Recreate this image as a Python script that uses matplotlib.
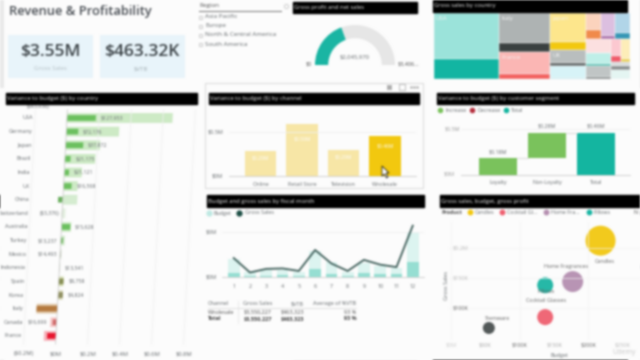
import numpy as np
import matplotlib
matplotlib.use("Agg")
from matplotlib import pyplot as plt
from matplotlib.patches import Rectangle
from matplotlib.transforms import Affine2D

plt.rcParams['font.family'] = ['Open Sans', 'DejaVu Sans']

# country chart
countries = ['USA', 'Germany', 'Japan', 'Brazil', 'India', 'UK', 'China', 'Switzerland', 'Australia',
             'Turkey', 'Mexico', 'Indonesia', 'Spain', 'Korea', 'Italy', 'Canada', 'France']
country_gross = [0.66, 0.33, 0.215, 0.19, 0.11, 0.0875, 0.09, 0.02, 0.06, 0.025, 0.008, 0.004, 0.03, 0.03, -0.13, -0.04, -0.075]
country_var = [0.18, 0.075, 0.11, 0.035, 0.03, 0.05, -0.03, -0.003, 0.055, 0.015, 0.005, 0.003, 0.03, 0.03, -0.13, -0.025, -0.055]
country_labels = ['$127,953', '$72,176', '$37,872', '$21,175', '$21,121', '$16,568', '', '($3,376)', '$15,628',
                  '$13,237', '$14,493', '$13,541', '$8,758', '$4,824', '', '$16,699', '']
labels_left = ['Switzerland', 'Turkey', 'Mexico', 'Canada']
country_dark = ['#6cc05f'] * 6 + ['#6cb060', '#c8d8c0', '#6cc05f', '#7dbb70', '#a0a890', '#a0a890', '#878f55', '#8f8f60', '#b57a3f', '#d06a6a', '#e8152e']
country_light = ['#cdeac5'] * 6 + ['#d5ecd0', '#e4f0e0', '#cdeac5', '#d5ecd0', '#dde5d8', '#dde5d8', '#d8e0b8', '#dcdcc0', '#e3cdb0', '#f6c9c9', '#f7b0b8']
country_ticks = [-0.2, 0, 0.2, 0.4, 0.6, 0.8]
country_ticklabels = ['($0.2M)', '$0M', '$0.2M', '$0.4M', '$0.6M', '$0.8M']

# channel chart
channels = ['Online', 'Retail Store', 'Television', 'Wholesale']
channel_var = [0.286, 0.59, 0.294, 0.454]
channel_labels = ['$0.29M', '$0.59M', '$0.29M', '$0.46M']
channel_colors = ['#f7e6a6', '#f7e6a6', '#f7e6a6', '#f2c80f']

# monthly chart
months = [1, 2, 3, 4, 5, 6, 7, 8, 9, 10, 11, 12]
budget = [2.0, 0.6, 0.8, 0.8, 0.6, 2.9, 1.7, 0.6, 1.5, 1.2, 1.0, 5.0]
profit = [0.45, 0.15, 0.15, 0.2, 0.15, 0.9, 0.3, 0.15, 0.4, 0.3, 0.3, 1.7]
gross_sales = [2.1, 0.5, 0.9, 0.95, 0.67, 3.0, 1.5, 0.67, 1.9, 1.37, 1.1, 5.7]

# table
table_header = ['Channel', 'Gross Sales', '$VTB', 'Average of %VTB']
table_row = ['Wholesale', '$3,550,227', '$463,323', '93 %']
table_total = ['Total', '$3,550,227', '$463,323', '93 %']

# gauge
gauge_fill = 0.39
gauge_rest = 0.61

# customer segments
segments = ['Loyalty', 'Non-Loyalty', 'Total']
segment_var = [0.178, 0.285]
segment_labels = ['$0.18M', '$0.28M', '$0.46M']

# scatter
products = ['Candles', 'Home Fragrances', 'Pillows', 'Cocktail Glasses', 'Stemware']
product_budget = [217.6, 177, 137, 137, 55]
product_sales = [212, 144, 138, 85, 67]
product_profit = [112, 55, 32, 32, 18]
product_colors = ['#f2c811', '#b58fb0', '#1ab5a3', '#ef6070', '#4a5050']

# treemap, in $K
tree_names = ['USA', 'Italy', 'France', 'Japan', 'UK', '', '', '', '', '', '', '', '', '', '', '']
tree_light = [808, 420, 308, 286, 128, 118, 68, 86, 81, 90, 72, 72, 46, 50, 21, 47]
tree_dark = [352, 112, 70, 69, 30, 10, 37, 11, 24, 0, 14, 15, 17, 7, 21, 0]
tree_light_col = ['#9be3da', '#aeb3b3', '#fbb6b4', '#fde68c', '#b9bebe', '#d7f3f7', '#fbd3bd', '#dcbfe0', '#b1d5e8',
                  '#fce0e0', '#bfefe8', '#c0c5c5', '#fcc8d0', '#fdedb8', '#d9dcdc', '#e4f5f2']
tree_dark_col = ['#12b5a2', '#3a4040', '#f2615f', '#f2c80f', '#5a6060', '#aee0e8', '#f08a4b', '#a66aa6', '#3596b5',
                 '#fce0e0', '#3fb5a5', '#808585', '#ef5a6a', '#e8cd50', '#8a8f8f', '#e4f5f2']
# columns, then rows inside them and so on, direction swaps at each level
tree_nest = [0, [1, 2], [3, 4, 5], [[6, 7, 8], [[9, 10, 11], [[12, 13], 14, 15]]]]

W, H = 640, 360
GRAY = '#666b6e'


def make_axes(x0, y0, x1, y1):
    # pixel box, top left origin
    a = fig.add_axes([x0 / W, 1 - y1 / H, (x1 - x0) / W, (y1 - y0) / H])
    a.patch.set_alpha(0)
    for s in a.spines.values():
        s.set_visible(False)
    a.set_xticks([])
    a.set_yticks([])
    return a


def soften(img, dpi):
    # the reference is a soft video frame
    for i in range(2):
        for axis in (0, 1):
            img = (np.roll(img, 1, axis) + 2 * img + np.roll(img, -1, axis)) / 4
    return img, 0, 0


fig = plt.figure(figsize=(6.4, 3.6), dpi=100, facecolor='#fcfcfc')
fig.set_agg_filter(soften)

# overlay in pixels for the report furniture
top = make_axes(0, 0, W, H)
top.set_xlim(0, W)
top.set_ylim(H, 0)
top.set_zorder(5)


def box(x0, y0, x1, y1, **kw):
    top.add_patch(Rectangle((x0, y0), x1 - x0, y1 - y0, **kw))


def title_bar(x0, y0, x1, y1, txt):
    box(x0, y0, x1, y1, color='black')
    top.text(x0 + 1, (y0 + y1) / 2, txt, color='#eeeeee', fontsize=4.2, va='center')


box(0, 0, 4, 88, color='#e9e9e9', lw=0)
top.text(9, 11, 'Revenue & Profitability', fontsize=9.3, color='#4a4f55', fontweight='semibold', va='center')
box(8, 35, 93, 78, color='#e8f4fa', lw=0)
box(100, 35, 185, 78, color='#e8f4fa', lw=0)
top.text(50.5, 52, '$3.55M', fontsize=12.5, color='#3d4448', fontweight='semibold', ha='center', va='center')
top.text(142, 52, '$463.32K', fontsize=12.5, color='#3d4448', fontweight='semibold', ha='center', va='center')
top.text(50, 69, 'Gross Sales', fontsize=4.4, color='#b5c0c5', ha='center', va='center')
top.text(141, 69, '$VTB', fontsize=4.4, color='#a5b0b5', ha='center', va='center')

# region slicer
top.text(199, 6, 'Region', fontsize=4.5, color='#555555', va='center')
top.plot([199, 281], [10.5, 10.5], color='#777777', lw=0.7)
top.plot([286], [6], 'o', mfc='none', mec='#bbbbbb', ms=3, mew=0.5)
for yy, name in zip([17, 26, 35, 44], ['Asia Pacific', 'Europe', 'North & Central America', 'South America']):
    box(199, yy - 1.5, 202, yy + 1.5, fc='none', ec='#aaaaaa', lw=0.4)
    top.text(205, yy, name, fontsize=4.5, color=GRAY, va='center')

title_bar(6, 93, 197, 104, 'Variance to budget ($) by country')
title_bar(293, 2, 417, 13, 'Gross profit and net sales')
title_bar(209, 93, 419, 104, 'Variance to budget ($) by channel')
title_bar(207, 195, 424, 207, 'Budget and gross sales by fiscal month')
title_bar(433, 0, 627, 12, 'Gross sales by country')
title_bar(437, 93, 634, 104, 'Variance to budget ($) by customer segment')
title_bar(440, 195, 640, 207, 'Gross sales, budget, gross profit')

# focus frame of the channel visual
box(205, 83, 423, 188, fc='none', ec='#dddddd', lw=0.8)
top.plot([389], [87], marker=(4, 1, 45), color='#aaaaaa', ms=4)
top.plot([402], [87], 's', mfc='none', mec='#aaaaaa', ms=4, mew=0.5)
top.plot([411, 414, 417], [87, 87, 87], '.', color='#aaaaaa', ms=1.5)
top.fill([382, 382, 384.5, 386.5, 388, 386, 389], [166, 176, 174, 178, 177, 173, 173], fc='white', ec='black', lw=0.5)

# country chart, the video is filmed at an angle so the rows lean
ax = make_axes(7, 109, 200, 345)
ax.set_xlim(-0.306, 0.9)
ax.set_ylim(16.67, -0.66)
k = 0.0043
lean = Affine2D.from_values(1, 0, -k, 1, 16 * k, 0) + ax.transData
rows = list(range(len(countries)))
for t in country_ticks:
    ax.plot([t, t], [-0.6, 16.6], color='#f0f0f0' if t else '#cccccc', lw=0.6, transform=lean)
ax.barh(rows, country_gross, height=0.72, color=country_light, transform=lean)
ax.barh(rows, country_var, height=0.42, color=country_dark, transform=lean)
for i, name in enumerate(countries):
    ax.text(-0.212, i, name, fontsize=4.0, color=GRAY, ha='right', va='center', transform=lean, clip_on=False)
    if name in labels_left:
        ax.text(min(country_gross[i], 0) - 0.02, i, country_labels[i], fontsize=3.8, color=GRAY, ha='right', va='center', transform=lean)
    else:
        ax.text(country_var[i] + 0.03, i, country_labels[i], fontsize=3.8, color=GRAY, va='center', transform=lean)
ax.text(-0.11, -0.85, '($83,938)', fontsize=3.8, color=GRAY, va='center', ha='center', clip_on=False)
for t, lab in zip(country_ticks, country_ticklabels):
    ax.text(t, 17.3, lab, fontsize=4.2, color=GRAY, ha='center', va='center', clip_on=False)

# gauge
ax = make_axes(315, 25, 395, 105)
ax.pie([gauge_fill, gauge_rest, 1], startangle=180, counterclock=False, radius=1,
       colors=['#1ab5a3', '#e6e6e6', 'none'], wedgeprops={'width': 0.33})
ax.set_xlim(-1, 1)
ax.set_ylim(-1, 1)
top.text(355, 57, '$2,045,970', fontsize=4.2, color=GRAY, ha='center', va='center')
top.text(309, 64, '$0', fontsize=4.0, color='#555555', ha='center', va='center')
top.text(398, 64, '$3,406...', fontsize=4.0, color='#555555', va='center')

# channel bars
ax = make_axes(229, 110, 416, 176)
ax.set_xlim(-0.76, 3.75)
ax.set_ylim(0, 0.755)
ax.axhline(0.5, color='#f0f0f0', lw=0.6)
ax.bar(channels, channel_var, width=0.76, color=channel_colors)
ax.spines['bottom'].set_visible(True)
ax.spines['bottom'].set_color('#cccccc')
ax.spines['bottom'].set_linewidth(0.6)
ax.tick_params(length=0, labelsize=3.9, labelcolor=GRAY, pad=4)
ax.set_xticks(range(len(channels)))
ax.set_xticklabels(channels)
for i, v in enumerate(channel_var):
    ax.text(i, v * 0.72 if i != 3 else v * 0.75, channel_labels[i], fontsize=3.6, color='white', ha='center', va='center')
top.text(223, 132, '$0.5M', fontsize=4.0, color=GRAY, ha='right', va='center')
top.text(223, 176, '$0M', fontsize=4.0, color=GRAY, ha='right', va='center')

# budget and gross sales per month
top.plot([209], [213], 'o', color='#bfe9e3', ms=3.5)
top.text(214, 213, 'Budget', fontsize=3.9, color=GRAY, va='center')
top.plot([239], [213], 'o', color='#1d4f45', ms=3.5)
top.text(245, 213, 'Gross Sales', fontsize=3.9, color=GRAY, va='center')
ax = make_axes(222, 218, 424, 277)
ax.set_xlim(0.28, 12.69)
ax.set_ylim(0, 6.55)
ax.axhline(5, color='#f0f0f0', lw=0.6)
ax.bar(months, budget, width=0.72, color='#dcf4f0')
ax.bar(months, profit, width=0.72, color='#96ded2')
ax.plot(months, gross_sales, color='#3f5f5a', lw=1.3)
ax.spines['bottom'].set_visible(True)
ax.spines['bottom'].set_color('#cccccc')
ax.spines['bottom'].set_linewidth(0.6)
ax.set_xticks(months)
ax.tick_params(length=0, labelsize=3.9, labelcolor=GRAY, pad=5)
top.text(217, 232, '$5M', fontsize=4.0, color=GRAY, ha='right', va='center')
top.text(217, 277, '$0M', fontsize=4.0, color=GRAY, ha='right', va='center')

# table under it
col_x = [208, 272, 304, 356]
col_ha = ['left', 'right', 'right', 'right']
for x, ha, a, b, c in zip(col_x, col_ha, table_header, table_row, table_total):
    top.text(x, 303.7, a, fontsize=4.0, color=GRAY, ha=ha, va='center')
    top.text(x, 312, b, fontsize=4.0, color='#555555', ha=ha, va='center')
    top.text(x, 319, c, fontsize=4.0, color='#444444', ha=ha, va='center', fontweight='bold')
top.plot([208, 356], [307.5, 307.5], color='#cccccc', lw=0.4)
top.plot([238, 238], [301, 323], color='#dddddd', lw=0.4)


# treemap, squarified by hand through the nesting list
def draw_tree(node, x0, y0, x1, y1, across):
    if isinstance(node, int):
        ym = y0 + (y1 - y0) * tree_light[node] / (tree_light[node] + tree_dark[node])
        tm.add_patch(Rectangle((x0, y0), x1 - x0, ym - y0, fc=tree_light_col[node], ec='#fcfcfc', lw=0.3))
        tm.add_patch(Rectangle((x0, ym), x1 - x0, y1 - ym, fc=tree_dark_col[node], ec='#fcfcfc', lw=0.3))
        tm.text(x0 + 0.01, y0 + 0.05, tree_names[node], fontsize=4.4, color='#f4f4f4', va='top')
        return
    total = sum(node_sum(n) for n in node)
    pos = x0 if across else y0
    for n in node:
        step = ((x1 - x0) if across else (y1 - y0)) * node_sum(n) / total
        if across:
            draw_tree(n, pos, y0, pos + step, y1, False)
        else:
            draw_tree(n, x0, pos, x1, pos + step, True)
        pos += step


def node_sum(node):
    if isinstance(node, int):
        return tree_light[node] + tree_dark[node]
    return sum(node_sum(n) for n in node)


tm = make_axes(434, 13, 630, 79)
tm.set_xlim(0, 1)
tm.set_ylim(1, 0)
draw_tree(tree_nest, 0, 0, 1, 1, True)

# waterfall
for x, col, name in zip([440, 472, 506], ['#7ac25c', '#b5303f', '#14b5a0'], ['Increase', 'Decrease', 'Total']):
    top.plot([x], [110], 'o', color=col, ms=3)
    top.text(x + 5, 110, name, fontsize=3.9, color=GRAY, va='center')
ax = make_axes(461, 112, 630, 174.5)
ax.set_xlim(-0.755, 2.694)
ax.set_ylim(0, 0.694)
ax.axhline(0.5, color='#f0f0f0', lw=0.6)
loyal, non_loyal = segment_var
total_var = loyal + non_loyal
ax.bar(segments[:2], [loyal, non_loyal], bottom=[0, loyal], width=0.78, color='#7ac25c')
ax.bar(segments[2], total_var, width=0.78, color='#14b5a0')
ax.plot([0.39, 0.61], [loyal, loyal], color='#cccccc', lw=0.5)
ax.plot([1.39, 1.61], [total_var, total_var], color='#cccccc', lw=0.5)
ax.spines['bottom'].set_visible(True)
ax.spines['bottom'].set_color('#cccccc')
ax.spines['bottom'].set_linewidth(0.6)
ax.set_xticks(range(3))
ax.set_xticklabels(segments)
ax.tick_params(length=0, labelsize=3.9, labelcolor=GRAY, pad=4)
for i, top_v in enumerate([loyal, total_var, total_var]):
    ax.text(i, top_v + 0.07, segment_labels[i], fontsize=3.9, color=GRAY, ha='center', va='center')
top.text(452, 129, '$0.5M', fontsize=3.9, color='#999999', va='center', ha='center')
top.text(449, 174.5, '$0M', fontsize=3.9, color='#999999', va='center', ha='center')

# scatter
top.text(441, 212, 'Product', fontsize=3.9, color='#555555', fontweight='bold', va='center')
for x, col, name in zip([470, 502, 546, 589], ['#f2c811', '#ef6070', '#b58fb0', '#1ab5a3'],
                        ['Candles', 'Cocktail Gl...', 'Home Fra...', 'Pillows']):
    top.plot([x], [212], 'o', color=col, ms=3.2)
    top.text(x + 5, 212, name, fontsize=3.8, color=GRAY, va='center')
top.text(633, 212, 'N', fontsize=3.9, color='#555555', va='center')
ax = make_axes(449, 222, 640, 340)
ax.set_xlim(-3, 275)
ax.set_ylim(47, 243)
for t in [0, 100, 200]:
    ax.axvline(t, color='#f2f2f2', lw=0.5)
for t in [100, 150, 200]:
    ax.axhline(t, color='#f2f2f2', lw=0.5)
ax.scatter(product_budget, product_sales, s=[p * 4.15 for p in product_profit], color=product_colors, alpha=0.95, lw=0)
name_offsets = [(4, -21), (-7, 15), (1, -6), (1, 16), (8, 9)]
for i, name in enumerate(products):
    px = 451 + product_budget[i] / 50 * 34.4
    py = 308 - (product_sales[i] - 100) / 50 * 30
    top.text(px + name_offsets[i][0], py - name_offsets[i][1], name, fontsize=3.9, color='#666666', ha='center', va='center')
for t, lab, col in zip([200, 150, 100], ['$0.2M', '$150K', '$100K'], ['#bbbbbb', '#bbbbbb', '#666666']):
    ax.text(3, t, lab, fontsize=4.0, color=col, va='center')
top.text(446, 285, 'Gross Sales', fontsize=3.9, color=GRAY, rotation=90, ha='center', va='center')
for t, lab, col in zip([0, 50, 100, 150, 200, 250], ['$0M', '$50K', '$100K', '$150K', '$200K', '$250K'],
                       ['#cccccc', '#aaaaaa', '#666666', '#aaaaaa', '#666666', '#bbbbbb']):
    top.text(451 + t / 50 * 34.4, 345, lab, fontsize=4.0, color=col, ha='center', va='center')
top.text(559, 356, 'Budget', fontsize=3.9, color=GRAY, ha='center', va='center')
top.text(624, 352, 'Udemy', fontsize=5, color='#c8c8c8', ha='center', va='center')

fig.savefig('out.png', dpi=100)
